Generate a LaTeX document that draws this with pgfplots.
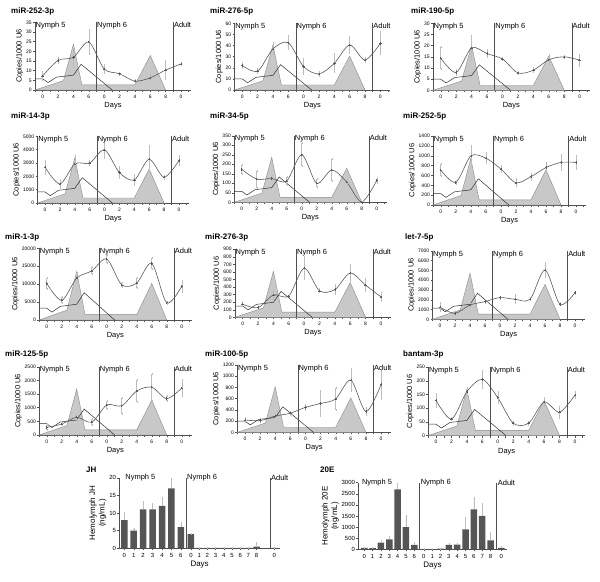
\documentclass[border=0pt]{standalone}
\usepackage{fontspec}
\setmainfont{Liberation Sans}
\usepackage{pgfplots}
\usepackage{pgfplotstable}
\pgfplotsset{compat=1.18}

\definecolor{curve}{HTML}{5A5A5A}
\definecolor{areaf}{HTML}{C8C8C8}
\definecolor{areab}{HTML}{8A8A8A}
\definecolor{errc}{HTML}{BDBDBD}
\definecolor{blk}{HTML}{303030}
\definecolor{vline}{HTML}{505050}
\definecolor{barc}{HTML}{555555}

\pgfplotsset{
 every axis/.append style={
   /pgf/number format/assume math mode=true,
   /pgf/number format/1000 sep={},
   scaled y ticks=false,
   tick label style={font=\fontsize{5}{6}\selectfont},
   label style={font=\fontsize{7.5}{8.5}\selectfont},
   axis lines*=left, axis line style={vline, line width=0.5bp},
   tick align=outside, major tick length=2bp, minor tick length=2bp,
   tick style={vline, line width=0.4bp},
   clip=false, scale only axis, anchor=south west,
   xlabel={Days},
   yticklabel style={inner sep=1.2bp},
   xticklabel style={inner sep=2.5bp},
   ylabel style={inner sep=1.5bp},
   xlabel style={inner sep=1.5bp},
 },
 panel/.style={
   xmin=-1, xmax=19.3, ymin=0,
   xtick={0,2,...,18}, xticklabels={0,2,4,6,0,2,4,6,8,0},
   minor xtick={-1,1,...,19},
   ylabel={Copies/1000 U6},
 },
 barax/.style={
   ymin=0, ybar, bar width=6.5bp,
   tick label style={font=\fontsize{6}{7}\selectfont},
   label style={font=\fontsize{8}{9.5}\selectfont},
   ylabel style={align=center},
 },
}
\tikzset{
 lab/.style={font=\fontsize{7.5}{8.5}\selectfont, inner sep=0.5bp},
 ttl/.style={font=\bfseries\fontsize{8}{9}\selectfont, anchor=west, inner sep=0pt},
}

% normalised shapes (fraction of y max), identical in every panel
\pgfplotstableread{
x f
-1 0
2.7 0.138
4 0.675
5.1 0.075
12 0.075
14 0.51
16 0
}\grayshape
\pgfplotstableread{
x f
-1 0.165
0 0.165
0.7 0.11
1.8 0.19
4 0.22
5 0.38
9.05 0
}\blkshape

\pgfplotstableread{
x y e
0 7.3 2
2 15.3 1.3
4 16.9 5.3
6 24.8 6
8 10.9 2
10 8.4 0.5
12 4.6 0.6
14 6.3 1.2
16 10.3 4.5
18 13.5 0.6
}\dA
\pgfplotstableread{
x y e
0 22 2
2 17 1.5
4 37 5
6 42.5 6
8 21 7
10 14.5 1.5
12 24 8
14 40.5 7
16 27 2
18 42 10
}\dB
\pgfplotstableread{
x y e
0 14.4 5
2 8 1
4 19 5.5
6 16.4 1.5
8 14 0.5
10 7.8 0.5
12 9 1
14 13.7 2
16 15 0.5
18 13.5 2.5
}\dC
\pgfplotstableread{
x y e
0 2680 500
2 1430 300
4 2930 600
6 3000 150
8 3980 600
10 2280 400
12 1730 400
14 3280 1000
16 1930 100
18 3180 350
}\dD
\pgfplotstableread{
x y e
0 173 25
2 122 45
4 125 15
6 112 20
8 250 60
10 100 20
12 170 60
14 106 10
16 2 0
18 115 15
}\dE
\pgfplotstableread{
x y e
0 710 120
2 460 30
4 995 200
6 950 100
8 730 70
10 450 70
12 575 60
14 760 90
16 865 150
18 865 130
}\dF
\pgfplotstableread{
x y e
0 10200 1500
2 5500 800
4 11700 1500
6 13700 1000
8 17000 1000
10 9800 500
12 10300 1300
14 15800 1500
16 4800 300
18 9400 1500
}\dG
\pgfplotstableread{
x y e
0 172 25
2 128 10
4 295 50
6 282 10
8 650 150
10 350 20
12 365 60
14 585 100
16 425 80
18 270 50
}\dH
\pgfplotstableread{
x y e
0 1230 400
2 610 100
4 1470 200
6 1810 100
8 2220 100
10 2050 400
12 2050 100
14 5050 700
16 1530 100
18 2730 100
}\dI
\pgfplotstableread{
x y e
0 280 80
2 400 50
4 650 100
6 470 100
8 1100 150
10 1070 300
12 1610 400
14 1750 500
16 1330 100
18 1720 300
}\dJ
\pgfplotstableread{
x y e
0 220 30
2 208 30
4 290 30
6 340 30
8 445 40
10 515 220
12 595 200
14 930 200
16 370 60
18 850 250
}\dK
\pgfplotstableread{
x y e
0 128 25
2 60 5
4 160 15
6 205 30
8 138 20
10 45 5
12 45 5
14 122 15
16 85 20
18 148 10
}\dL
% JH (x = position of the day on the axis)
\pgfplotstableread{
x y e
0 8 2.1
1 5 0.5
2 11 2.2
3 11 1.5
4 12 2.2
5 17 2.5
6 6 1.2
7.07 4 0
7.94 0.1 0
8.81 0.1 0
9.68 0.1 0
10.55 0.1 0
11.42 0.1 0
12.29 0.15 0
13.16 0.15 0
14.03 0.5 0.9
15.9 0.1 0
}\dJH
% 20E
\pgfplotstableread{
x y e
0 70 0
1 50 0
2 300 75
3 450 90
4 2700 225
5 1000 500
6 195 75
7.15 5 0
8.15 5 0
9.15 30 0
10.15 195 30
11.15 210 30
12.15 900 500
13.15 1800 500
14.15 1500 525
15.15 400 345
16.45 60 30
}\dTE

% #1 left, #2 bottom, #3 width, #4 height, #5 ymax, #6 ystep, #7 table
\newcommand{\panel}[7]{%
\begin{axis}[panel, at={(#1bp,-#2bp)}, width=#3bp, height=#4bp, ymax=#5, ytick distance=#6]
\addplot[fill=areaf, draw=areab, line width=0.4bp] table[x=x, y expr=\thisrow{f}*#5] {\grayshape} \closedcycle;
\addplot[blk, line width=0.5bp] table[x=x, y expr=\thisrow{f}*#5] {\blkshape};
\addplot[curve, line width=0.6bp, smooth, mark=+, mark size=1.2bp,
  error bars/.cd, y dir=both, y explicit,
  error bar style={errc, line width=0.5bp},
  error mark options={errc, mark size=1bp}] table[x=x, y=y, y error=e] {#7};
\draw[vline, line width=0.6bp] (axis cs:7,0) -- (axis cs:7,#5);
\draw[vline, line width=0.6bp] (axis cs:17,0) -- (axis cs:17,#5);
\node[lab, anchor=north west, yshift=1bp] at (axis cs:-1,#5) {Nymph 5};
\node[lab, anchor=north west, yshift=1bp] at (axis cs:7,#5) {Nymph 6};
\node[lab, anchor=north west, yshift=1bp] at (axis cs:17,#5) {Adult};
\end{axis}}

\begin{document}
\begin{tikzpicture}
\useasboundingbox (0,0) rectangle (600bp,-582bp);

% row 1
\panel{35}{90}{156}{67.7}{35}{5}{\dA}
\panel{234.6}{90}{155.7}{66.7}{60}{10}{\dB}
\panel{433}{90.3}{156.7}{67}{30}{5}{\dC}
% row 2
\panel{37.6}{203}{151}{66.7}{5000}{1000}{\dD}
\panel{234.2}{202.3}{152.3}{66.6}{350}{50}{\dE}
\panel{433.2}{205}{152.7}{69}{1400}{200}{\dF}
% row 3
\panel{39.2}{320}{152.3}{71.7}{20000}{5000}{\dG}
\panel{235}{317.3}{155.9}{68.1}{900}{100}{\dH}
\panel{432.5}{319.3}{152.3}{68.4}{7000}{1000}{\dI}
% row 4
\panel{39.2}{435}{152.3}{68.3}{2500}{500}{\dJ}
\panel{237.4}{432.3}{153.5}{67.3}{1200}{200}{\dK}
\panel{428.3}{435.5}{156.7}{68.5}{250}{50}{\dL}

% titles
\node[ttl] at (11bp,-11bp) {miR-252-3p};
\node[ttl] at (210bp,-11bp) {miR-276-5p};
\node[ttl] at (411bp,-11bp) {miR-190-5p};
\node[ttl] at (11bp,-116bp) {miR-14-3p};
\node[ttl] at (210bp,-116bp) {miR-34-5p};
\node[ttl] at (403bp,-116bp) {miR-252-5p};
\node[ttl] at (5bp,-237bp) {miR-1-3p};
\node[ttl] at (205bp,-237bp) {miR-276-3p};
\node[ttl] at (405bp,-237bp) {let-7-5p};
\node[ttl] at (5bp,-354bp) {miR-125-5p};
\node[ttl] at (205bp,-354bp) {miR-100-5p};
\node[ttl] at (403bp,-354bp) {bantam-3p};
\node[ttl] at (86bp,-470bp) {JH};
\node[ttl] at (320bp,-470bp) {20E};

% JH
\begin{axis}[barax, at={(119.3bp,-548.3bp)}, width=160.6bp, height=70.6bp,
  xmin=-0.53, xmax=16.5, ymax=20, ytick distance=5,
  xtick={0,1,2,3,4,5,6,7.07,7.94,8.81,9.68,10.55,11.42,12.29,13.16,14.03,15.9},
  xticklabels={0,1,2,3,4,5,6,0,1,2,3,4,5,6,7,8,0},
  ylabel={Hemolymph JH\\(ng/mL)}]
\addplot[fill=barc, draw=none,
  error bars/.cd, y dir=plus, y explicit,
  error bar style={errc, line width=0.5bp},
  error mark options={errc, mark size=1bp}] table[x=x, y=y, y error=e] {\dJH};
\draw[vline, line width=0.6bp] (axis cs:6.54,0) -- (axis cs:6.54,20);
\draw[vline, line width=0.6bp] (axis cs:15.44,0) -- (axis cs:15.44,20);
\node[lab, anchor=west] at (axis cs:0.05,20) {Nymph 5};
\node[lab, anchor=west] at (axis cs:6.6,20) {Nymph 6};
\node[lab, anchor=west] at (axis cs:15.5,20) {Adult};
\end{axis}

% 20E
\begin{axis}[barax, at={(358.3bp,-549.3bp)}, width=148.5bp, height=66.7bp,
  xmin=-0.72, xmax=17.1, ymax=3000, ytick distance=500,
  xtick={0,1,2,3,4,5,6,7.15,8.15,9.15,10.15,11.15,12.15,13.15,14.15,15.15,16.45},
  xticklabels={0,1,2,3,4,5,6,0,1,2,3,4,5,6,7,8,0},
  ylabel={Hemolymph 20E\\(ng/mL)}]
\addplot[fill=barc, draw=none,
  error bars/.cd, y dir=plus, y explicit,
  error bar style={errc, line width=0.5bp},
  error mark options={errc, mark size=1bp}] table[x=x, y=y, y error=e] {\dTE};
\draw[vline, line width=0.6bp] (axis cs:6.6,0) -- (axis cs:6.6,3000);
\draw[vline, line width=0.6bp] (axis cs:15.85,0) -- (axis cs:15.85,3000);
\node[lab, anchor=west] at (axis cs:-0.35,3000) {Nymph 5};
\node[lab, anchor=west] at (axis cs:6.7,3000) {Nymph 6};
\node[lab, anchor=west] at (axis cs:15.95,3000) {Adult};
\end{axis}
\end{tikzpicture}
\end{document}
